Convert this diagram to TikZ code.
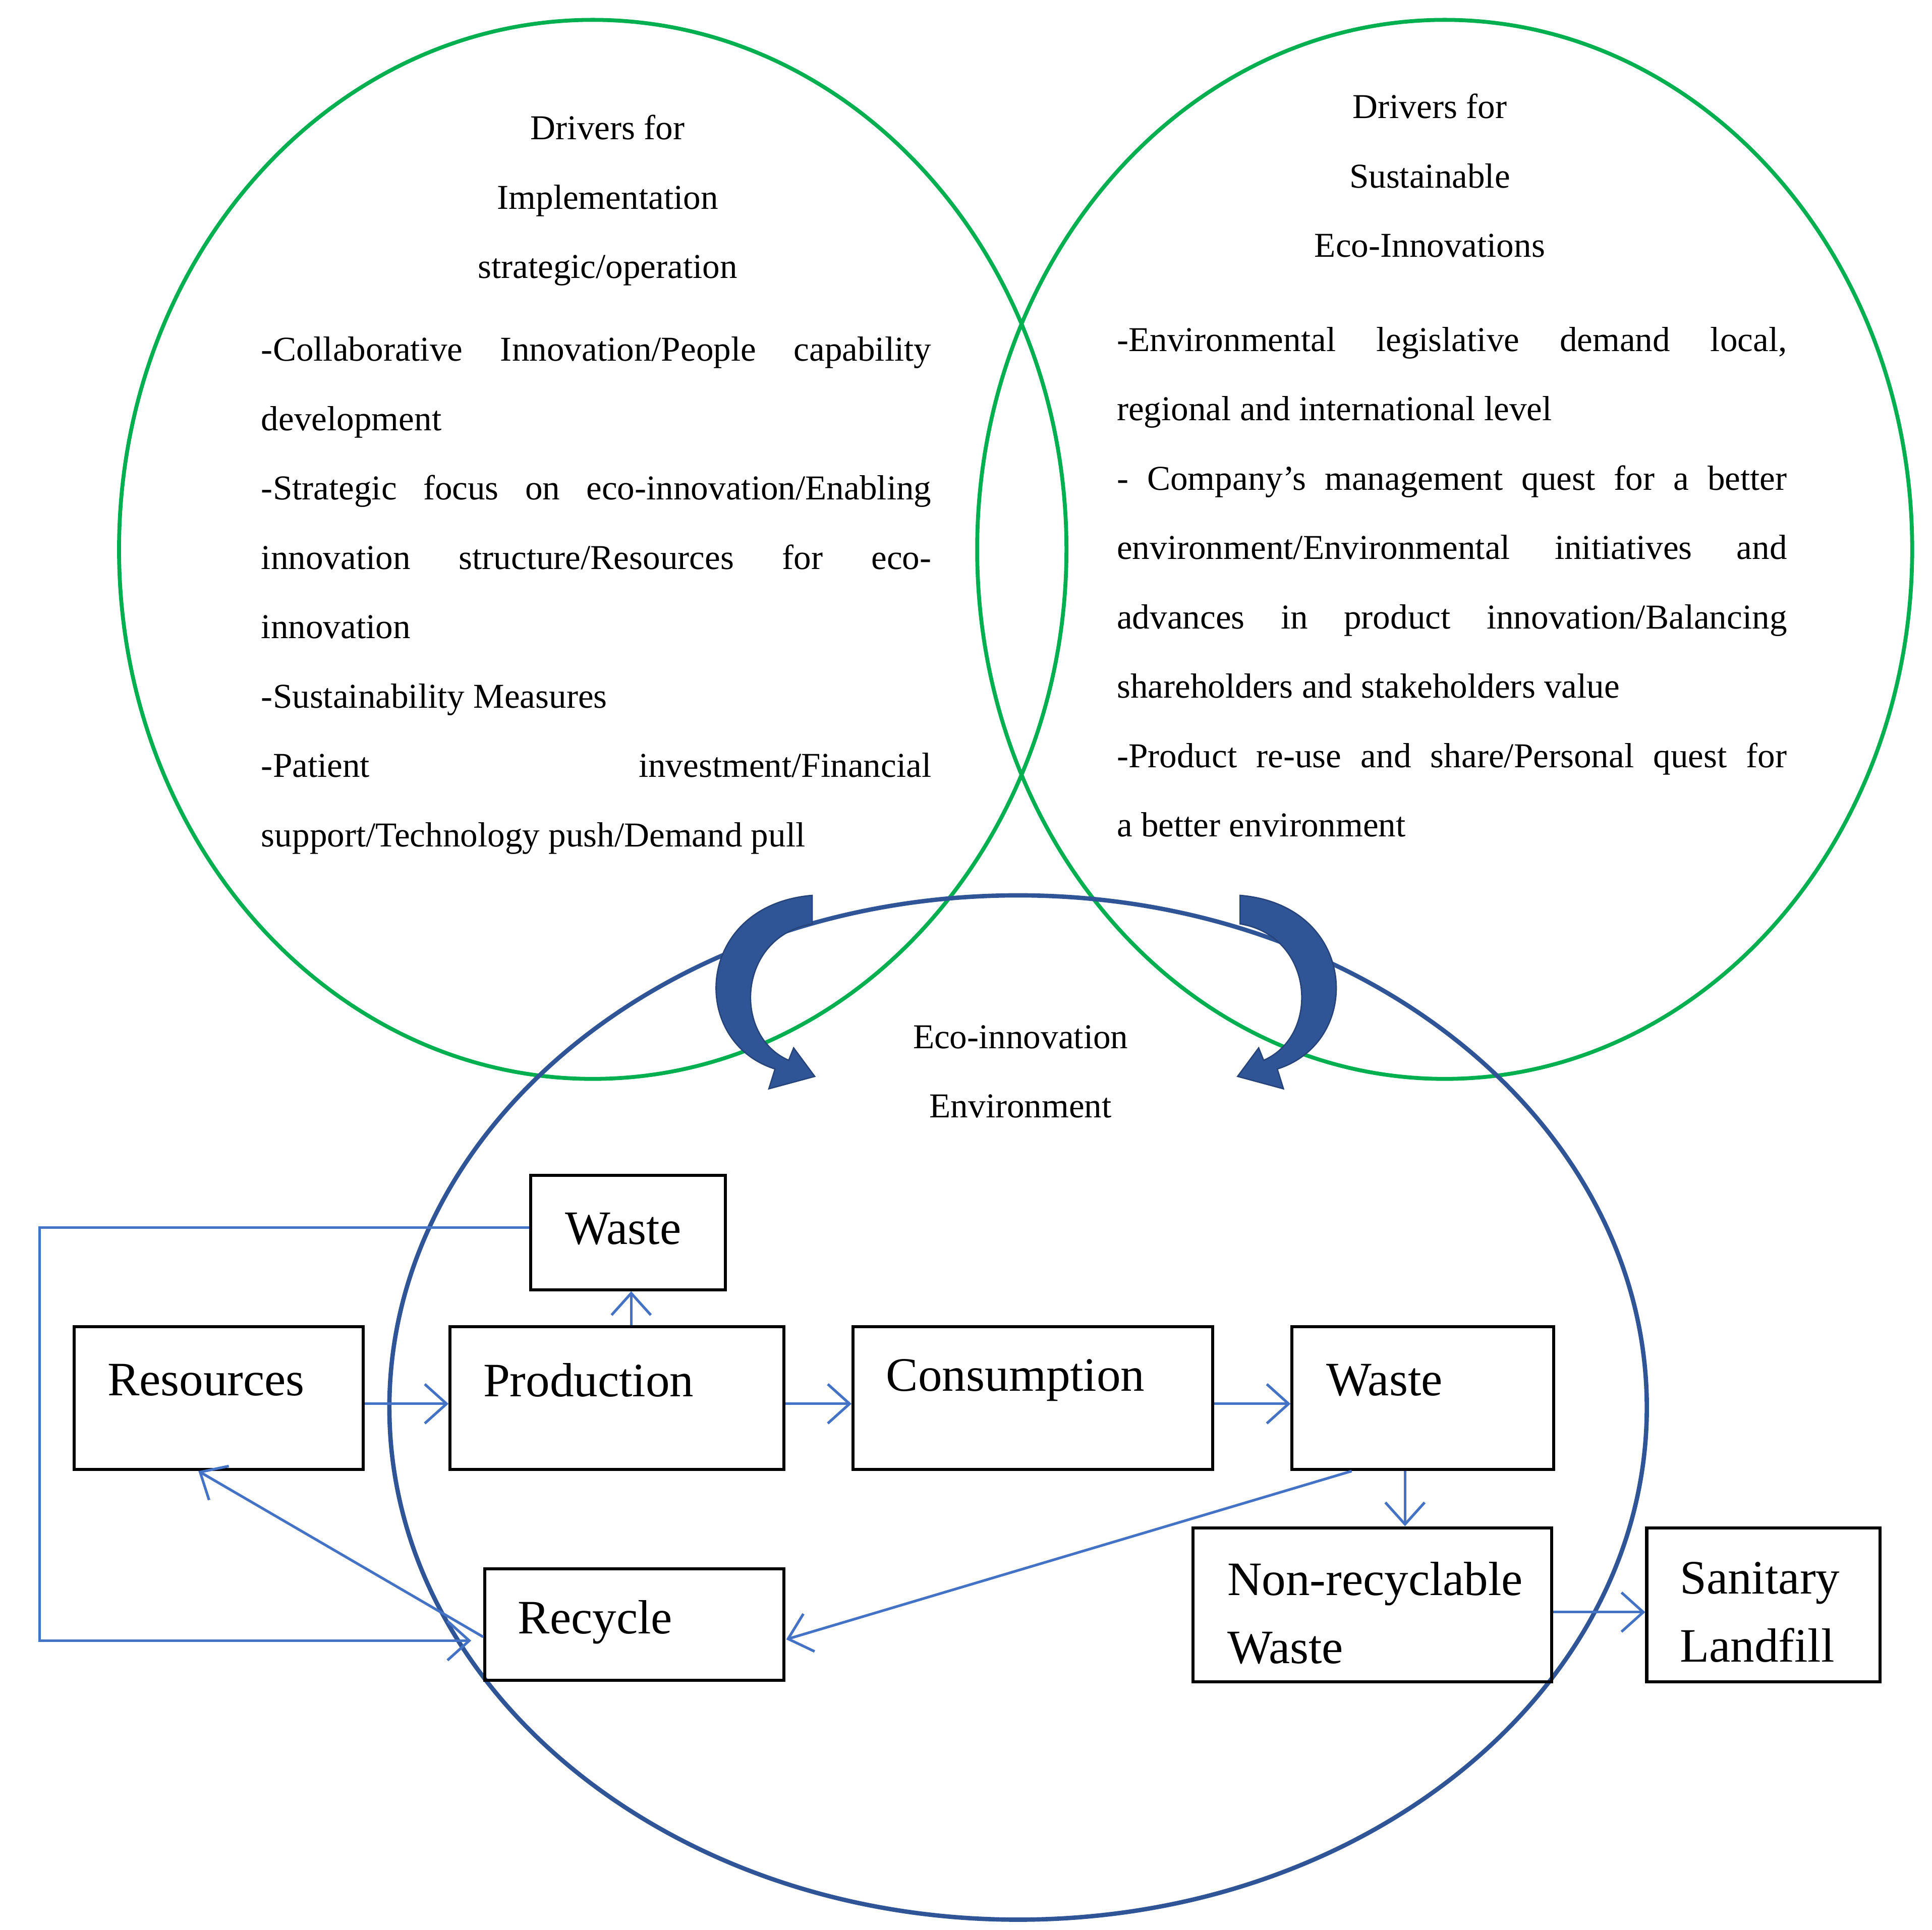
\documentclass[tikz,border=0pt]{standalone}
\usepackage{fontspec}
\setmainfont{Liberation Serif}
\usetikzlibrary{arrows.meta}
\definecolor{cgreen}{HTML}{00B050}
\definecolor{cdblue}{HTML}{2F5597}
\definecolor{cblue}{HTML}{4472C4}
\begin{document}
\begin{tikzpicture}[x=0.01cm,y=-0.01cm,
  circ/.style={draw=cgreen,line width=0.9pt},
  box/.style={draw=black,line width=0.7pt,inner sep=0pt},
  lbl/.style={font=\fontsize{11}{15.6}\selectfont,align=left,inner sep=0pt},
  txt/.style={font=\fontsize{8}{15.9}\selectfont,inner sep=0pt},
  par/.style={txt,text width=5.4cm,align=justify,anchor=north west},
  con/.style={draw=cblue,line width=0.6pt,-{Straight Barb[length=5pt,width=9pt]}},
  bigarr/.style={draw=cdblue!80!black,fill=cdblue,line width=0.3pt}]
\useasboundingbox (0,0) rectangle (1558,1556);
\draw[circ] (478,443) ellipse [x radius=382,y radius=427];
\draw[circ] (1165,443) ellipse [x radius=377,y radius=427];
\draw[draw=cdblue,line width=1pt] (821,1135) ellipse [x radius=507,y radius=413];

\node[txt,align=center,anchor=north] (t1) at (490,92) {Drivers for\\Implementation\\strategic/operation};
\node[txt,align=center,anchor=north] (t2) at (1153,75) {Drivers for\\Sustainable\\Eco-Innovations};
\node[txt,align=center,anchor=north] (t3) at (823,826) {Eco-innovation\\Environment};

\node[par] (p1) at (210,271) {-Collaborative Innovation/People capability\linebreak development\par
-Strategic focus on eco-innovation/Enabling\linebreak innovation structure/Resources for eco-\linebreak innovation\par
-Sustainability Measures\par
-Patient investment/Financial\linebreak support/Technology push/Demand pull\par};
\node[par] (p2) at (900,263) {-Environmental legislative demand local,\linebreak regional and international level\par
- Company's management quest for a better\linebreak environment/Environmental initiatives and\linebreak advances in product innovation/Balancing\linebreak shareholders and stakeholders value\par
-Product re-use and share/Personal quest for\linebreak a better environment\par};

% curved block arrows
\fill[bigarr] (655,722) .. controls (560,730) and (555,840) .. (625,862) -- (620,878) -- (657,868) -- (640,845) -- (636,855) .. controls (590,835) and (595,755) .. (655,745) -- cycle;
\fill[bigarr] (1000,722) .. controls (1095,730) and (1100,840) .. (1030,862) -- (1035,878) -- (998,868) -- (1015,845) -- (1019,855) .. controls (1065,835) and (1060,755) .. (1000,745) -- cycle;

% boxes
\node[box,minimum width=1.57cm,minimum height=0.92cm] (w1) at (506.5,994) {};
\node[box,minimum width=2.33cm,minimum height=1.15cm] (res) at (176.5,1127.5) {};
\node[box,minimum width=2.69cm,minimum height=1.15cm] (prod) at (497.5,1127.5) {};
\node[box,minimum width=2.90cm,minimum height=1.15cm] (cons) at (833,1127.5) {};
\node[box,minimum width=2.11cm,minimum height=1.15cm] (w2) at (1147.5,1127.5) {};
\node[box,minimum width=2.41cm,minimum height=0.90cm] (rec) at (511.5,1310) {};
\node[box,minimum width=2.89cm,minimum height=1.24cm] (nr) at (1106.5,1294) {};
\node[box,minimum width=1.88cm,minimum height=1.24cm] (san) at (1422,1294) {};

\node[lbl,anchor=west] (lw1) at (455,991) {Waste};
\node[lbl,anchor=west] (lres) at (86,1113) {Resources};
\node[lbl,anchor=west] (lprod) at (389,1113) {Production};
\node[lbl,anchor=west] (lcons) at (714,1113) {Consumption};
\node[lbl,anchor=west] (lw2) at (1069,1113) {Waste};
\node[lbl,anchor=west] (lrec) at (417,1308) {Recycle};
\node[lbl,anchor=north west] (lnr) at (989,1259) {Non-recyclable\\Waste};
\node[lbl,anchor=north west] (lsan) at (1354,1259) {Sanitary\\Landfill};

% connectors
\coordinate (c1) at (32,990);
\coordinate (c2) at (32,1323);
\coordinate (c3) at (380,1323);
\draw[con] (w1.west |- 0,990) -- (c1) -- (c2) -- (c3);
\draw[con] (res.east |- 0,1132) -- (prod.west |- 0,1132);
\draw[con] (prod.north -| 509,0) -- (w1.south -| 509,0);
\draw[con] (prod.east |- 0,1132) -- (cons.west |- 0,1132);
\draw[con] (cons.east |- 0,1132) -- (w2.west |- 0,1132);
\draw[con] (w2.south -| 1133,0) -- (nr.north -| 1133,0);
\draw[con] (w2.south -| 1090,0) -- (634,1322);
\draw[con] (rec.west |- 0,1320) -- (res.south -| 160,0);
\draw[con] (nr.east |- 0,1300) -- (san.west |- 0,1300);
\end{tikzpicture}
\end{document}
